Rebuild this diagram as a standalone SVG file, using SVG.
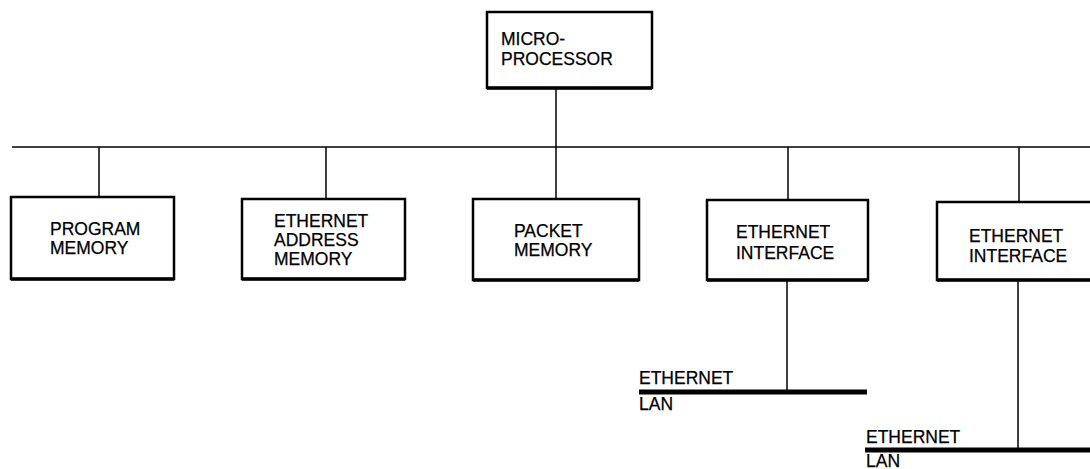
<svg xmlns="http://www.w3.org/2000/svg" width="1090" height="469" viewBox="0 0 1090 469">
<style>
.box{fill:#fff;stroke:#000;stroke-width:2.5}
.base{stroke:#000;stroke-width:3.5}
.ln{stroke:#000;stroke-width:1.5;fill:none}
.lan{stroke:#000;stroke-width:5}
text{font-family:"Liberation Sans",Arial,sans-serif;font-size:17.5px;fill:#000;stroke:#000;stroke-width:0.25}
</style>
<rect width="1090" height="469" fill="#fff"/>
<g id="connectors">
<line class="ln" x1="12" y1="147" x2="1090" y2="147"/>
<line class="ln" x1="556" y1="88" x2="556" y2="199"/>
<line class="ln" x1="99" y1="147" x2="99" y2="197"/>
<line class="ln" x1="326" y1="147" x2="326" y2="199"/>
<line class="ln" x1="788" y1="147" x2="788" y2="200"/>
<line class="ln" x1="1019" y1="147" x2="1019" y2="202"/>
<line class="ln" x1="787" y1="280" x2="787" y2="392"/>
<line class="ln" x1="1018" y1="280" x2="1018" y2="450"/>
</g>
<g id="microprocessor">
<rect class="box" x="487" y="12" width="165" height="76"/>
<line class="base" x1="487" y1="88" x2="652" y2="88"/>
<text x="501" y="45">MICRO-</text>
<text x="501" y="65">PROCESSOR</text>
</g>
<g id="program-memory">
<rect class="box" x="11" y="197" width="163" height="82"/>
<line class="base" x1="11" y1="279" x2="174" y2="279"/>
<text x="50" y="235">PROGRAM</text>
<text x="50" y="254">MEMORY</text>
</g>
<g id="ethernet-address-memory">
<rect class="box" x="242" y="199" width="163" height="80"/>
<line class="base" x1="242" y1="279" x2="405" y2="279"/>
<text x="274" y="227">ETHERNET</text>
<text x="274" y="246">ADDRESS</text>
<text x="274" y="265">MEMORY</text>
</g>
<g id="packet-memory">
<rect class="box" x="473" y="199" width="166" height="81"/>
<line class="base" x1="473" y1="280" x2="639" y2="280"/>
<text x="514" y="237">PACKET</text>
<text x="514" y="256">MEMORY</text>
</g>
<g id="ethernet-interface-1">
<rect class="box" x="707" y="200" width="161" height="80"/>
<line class="base" x1="707" y1="280" x2="868" y2="280"/>
<text x="736" y="238">ETHERNET</text>
<text x="736" y="259">INTERFACE</text>
</g>
<g id="ethernet-interface-2">
<rect class="box" x="937" y="202" width="160" height="78"/>
<line class="base" x1="937" y1="280" x2="1090" y2="280"/>
<text x="969" y="242">ETHERNET</text>
<text x="969" y="262">INTERFACE</text>
</g>
<g id="lan-1">
<line class="lan" x1="639" y1="392" x2="867" y2="392"/>
<text x="639" y="384">ETHERNET</text>
<text x="639" y="410">LAN</text>
</g>
<g id="lan-2">
<line class="lan" x1="865" y1="450" x2="1090" y2="450"/>
<text x="866" y="443">ETHERNET</text>
<text x="866" y="467">LAN</text>
</g>
</svg>
